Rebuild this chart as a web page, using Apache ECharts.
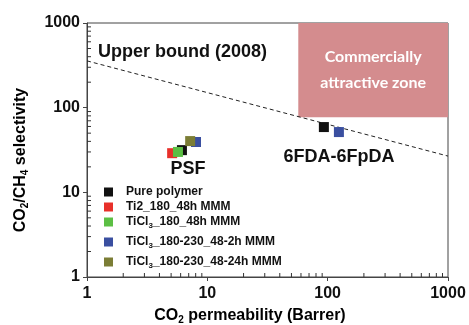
<!DOCTYPE html>
<html><head><meta charset="utf-8">
<script src="https://cdn.jsdelivr.net/npm/echarts@6/dist/echarts.min.js"></script>
<style>html,body{margin:0;padding:0;background:#fff}#c{width:469px;height:325px}</style>
</head><body><div id="c"></div>
<script>
// ---- data ----
var seriesNames = ['Pure polymer', 'Ti2_180_48h MMM', 'TiCl3_180_48h MMM', 'TiCl3_180-230_48-2h MMM', 'TiCl3_180-230_48-24h MMM'];
var purePolymer = [[6.15, 31.5], [93, 59]];
var ti2_180_48h = [[5.1, 29]];
var ticl3_180_48h = [[5.7, 30]];
var ticl3_48_2h = [[8.05, 39.3], [124, 51.5]];
var ticl3_48_24h = [[7.2, 40.3]];
var upperBound2008 = [[1, 357], [1000, 26.8]];
var zoneX = [57, 1000];
var zoneY = [77, 1000];
var minorTicks = [2,3,4,5,6,7,8,9,20,30,40,50,60,70,80,90,200,300,400,500,600,700,800,900];
var colors = ['#111111', '#e8302a', '#5cbf44', '#3a4fa0', '#7b7d35'];

var chart = echarts.init(document.getElementById('c'), null, {renderer: 'canvas'});
var FONT = 'Liberation Sans';
var axisCol = '#444';

function legendFmt(name) {
  if (name.indexOf('TiCl3') === 0) return '{a|TiCl}{s|3}{a|' + name.slice(5) + '}';
  return '{a|' + name + '}';
}
var legendRich = {
  a: {fontFamily: FONT, fontWeight: 'bold', fontSize: 12, color: '#111'},
  s: {fontFamily: FONT, fontWeight: 'bold', fontSize: 8, color: '#111', padding: [7, 0, 0, 0]}
};
var legendTops = [186, 201, 216, 236, 256];
var legends = seriesNames.map(function (n, i) {
  return {
    data: [n], left: 104, top: legendTops[i], orient: 'vertical',
    icon: 'rect', itemWidth: 9, itemHeight: 9, padding: 0,
    selectedMode: false,
    formatter: legendFmt,
    textStyle: {padding: [0, 0, 0, 8], rich: legendRich}
  };
});

function minorSeries(axis) {
  return {
    type: 'scatter', silent: true, clip: false, z: 5,
    data: minorTicks.map(function (v) { return axis === 'x' ? [v, 1] : [1, v]; }),
    symbol: 'rect',
    symbolSize: axis === 'x' ? [1, 4] : [4, 1],
    symbolOffset: axis === 'x' ? [0, -2] : [2, 0],
    itemStyle: {color: '#333', opacity: 1}
  };
}

function scatter(name, data, color) {
  return {
    name: name, type: 'scatter', data: data, symbol: 'rect', symbolSize: 10,
    itemStyle: {color: color, opacity: 1}, z: 3
  };
}

var subRich = {
  n: {fontFamily: FONT, fontWeight: 'bold', fontSize: 16, color: '#111'},
  s: {fontFamily: FONT, fontWeight: 'bold', fontSize: 10, color: '#111', padding: [9, 0, 0, 0]}
};

function plainLabel(v) { return String(Math.round(v)); }

var option = {
  animation: false,
  color: colors,
  legend: legends,
  grid: {left: 87, right: 21, top: 23, bottom: 48, show: true, borderColor: axisCol, borderWidth: 1, backgroundColor: 'transparent'},
  xAxis: {
    type: 'log', logBase: 10, min: 1, max: 1000,
    axisLine: {lineStyle: {color: axisCol, width: 1}},
    axisTick: {inside: false, length: 4, lineStyle: {color: axisCol}},
    splitLine: {show: false},
    axisLabel: {margin: 9, formatter: plainLabel, fontFamily: FONT, fontWeight: 'bold', fontSize: 16, color: '#111'}
  },
  yAxis: {
    type: 'log', logBase: 10, min: 1, max: 1000,
    axisLine: {lineStyle: {color: axisCol, width: 1}},
    axisTick: {inside: false, length: 4, lineStyle: {color: axisCol}},
    splitLine: {show: false},
    axisLabel: {margin: 7, formatter: plainLabel, fontFamily: FONT, fontWeight: 'bold', fontSize: 16, color: '#111'}
  },
  graphic: [
    {type: 'text', left: 98, top: 43, style: {text: 'Upper bound (2008)', fontFamily: FONT, fontWeight: 'bold', fontSize: 18, fill: '#111'}},
    {type: 'text', x: 188, y: 169, style: {text: 'PSF', align: 'center', verticalAlign: 'middle', fontFamily: FONT, fontWeight: 'bold', fontSize: 18, fill: '#111'}},
    {type: 'text', x: 339, y: 157, style: {text: '6FDA-6FpDA', align: 'center', verticalAlign: 'middle', fontFamily: FONT, fontWeight: 'bold', fontSize: 18, fill: '#111'}},
    {type: 'text', x: 250, y: 316, style: {text: '{n|CO}{s|2}{n| permeability (Barrer)}', align: 'center', verticalAlign: 'middle', rich: subRich}},
    {type: 'text', x: 21, y: 160, rotation: Math.PI / 2, style: {text: '{n|CO}{s|2}{n|/CH}{s|4}{n| selectivity}', align: 'center', verticalAlign: 'middle', rich: subRich}}
  ],
  series: [
    {
      name: 'zone', type: 'line', data: [], silent: true, z: 1,
      markArea: {
        silent: true,
        itemStyle: {color: '#d48c8e', opacity: 1},
        label: {show: true, position: 'inside', color: '#fff', fontFamily: 'Lato', fontWeight: 'bold', fontSize: 16, lineHeight: 26},
        data: [[{name: 'Commercially\nattractive zone', coord: [zoneX[0], zoneY[0]]}, {coord: [zoneX[1], zoneY[1]]}]]
      }
    },
    {
      name: 'upper', type: 'line', data: upperBound2008, symbol: 'none', silent: true, z: 2,
      lineStyle: {color: '#222', width: 1, type: [4, 3]}
    },
    scatter(seriesNames[0], purePolymer, colors[0]),
    scatter(seriesNames[1], ti2_180_48h, colors[1]),
    scatter(seriesNames[3], ticl3_48_2h, colors[3]),
    scatter(seriesNames[2], ticl3_180_48h, colors[2]),
    scatter(seriesNames[4], ticl3_48_24h, colors[4]),
    minorSeries('x'),
    minorSeries('y')
  ]
};
chart.setOption(option);
</script>
</body></html>
